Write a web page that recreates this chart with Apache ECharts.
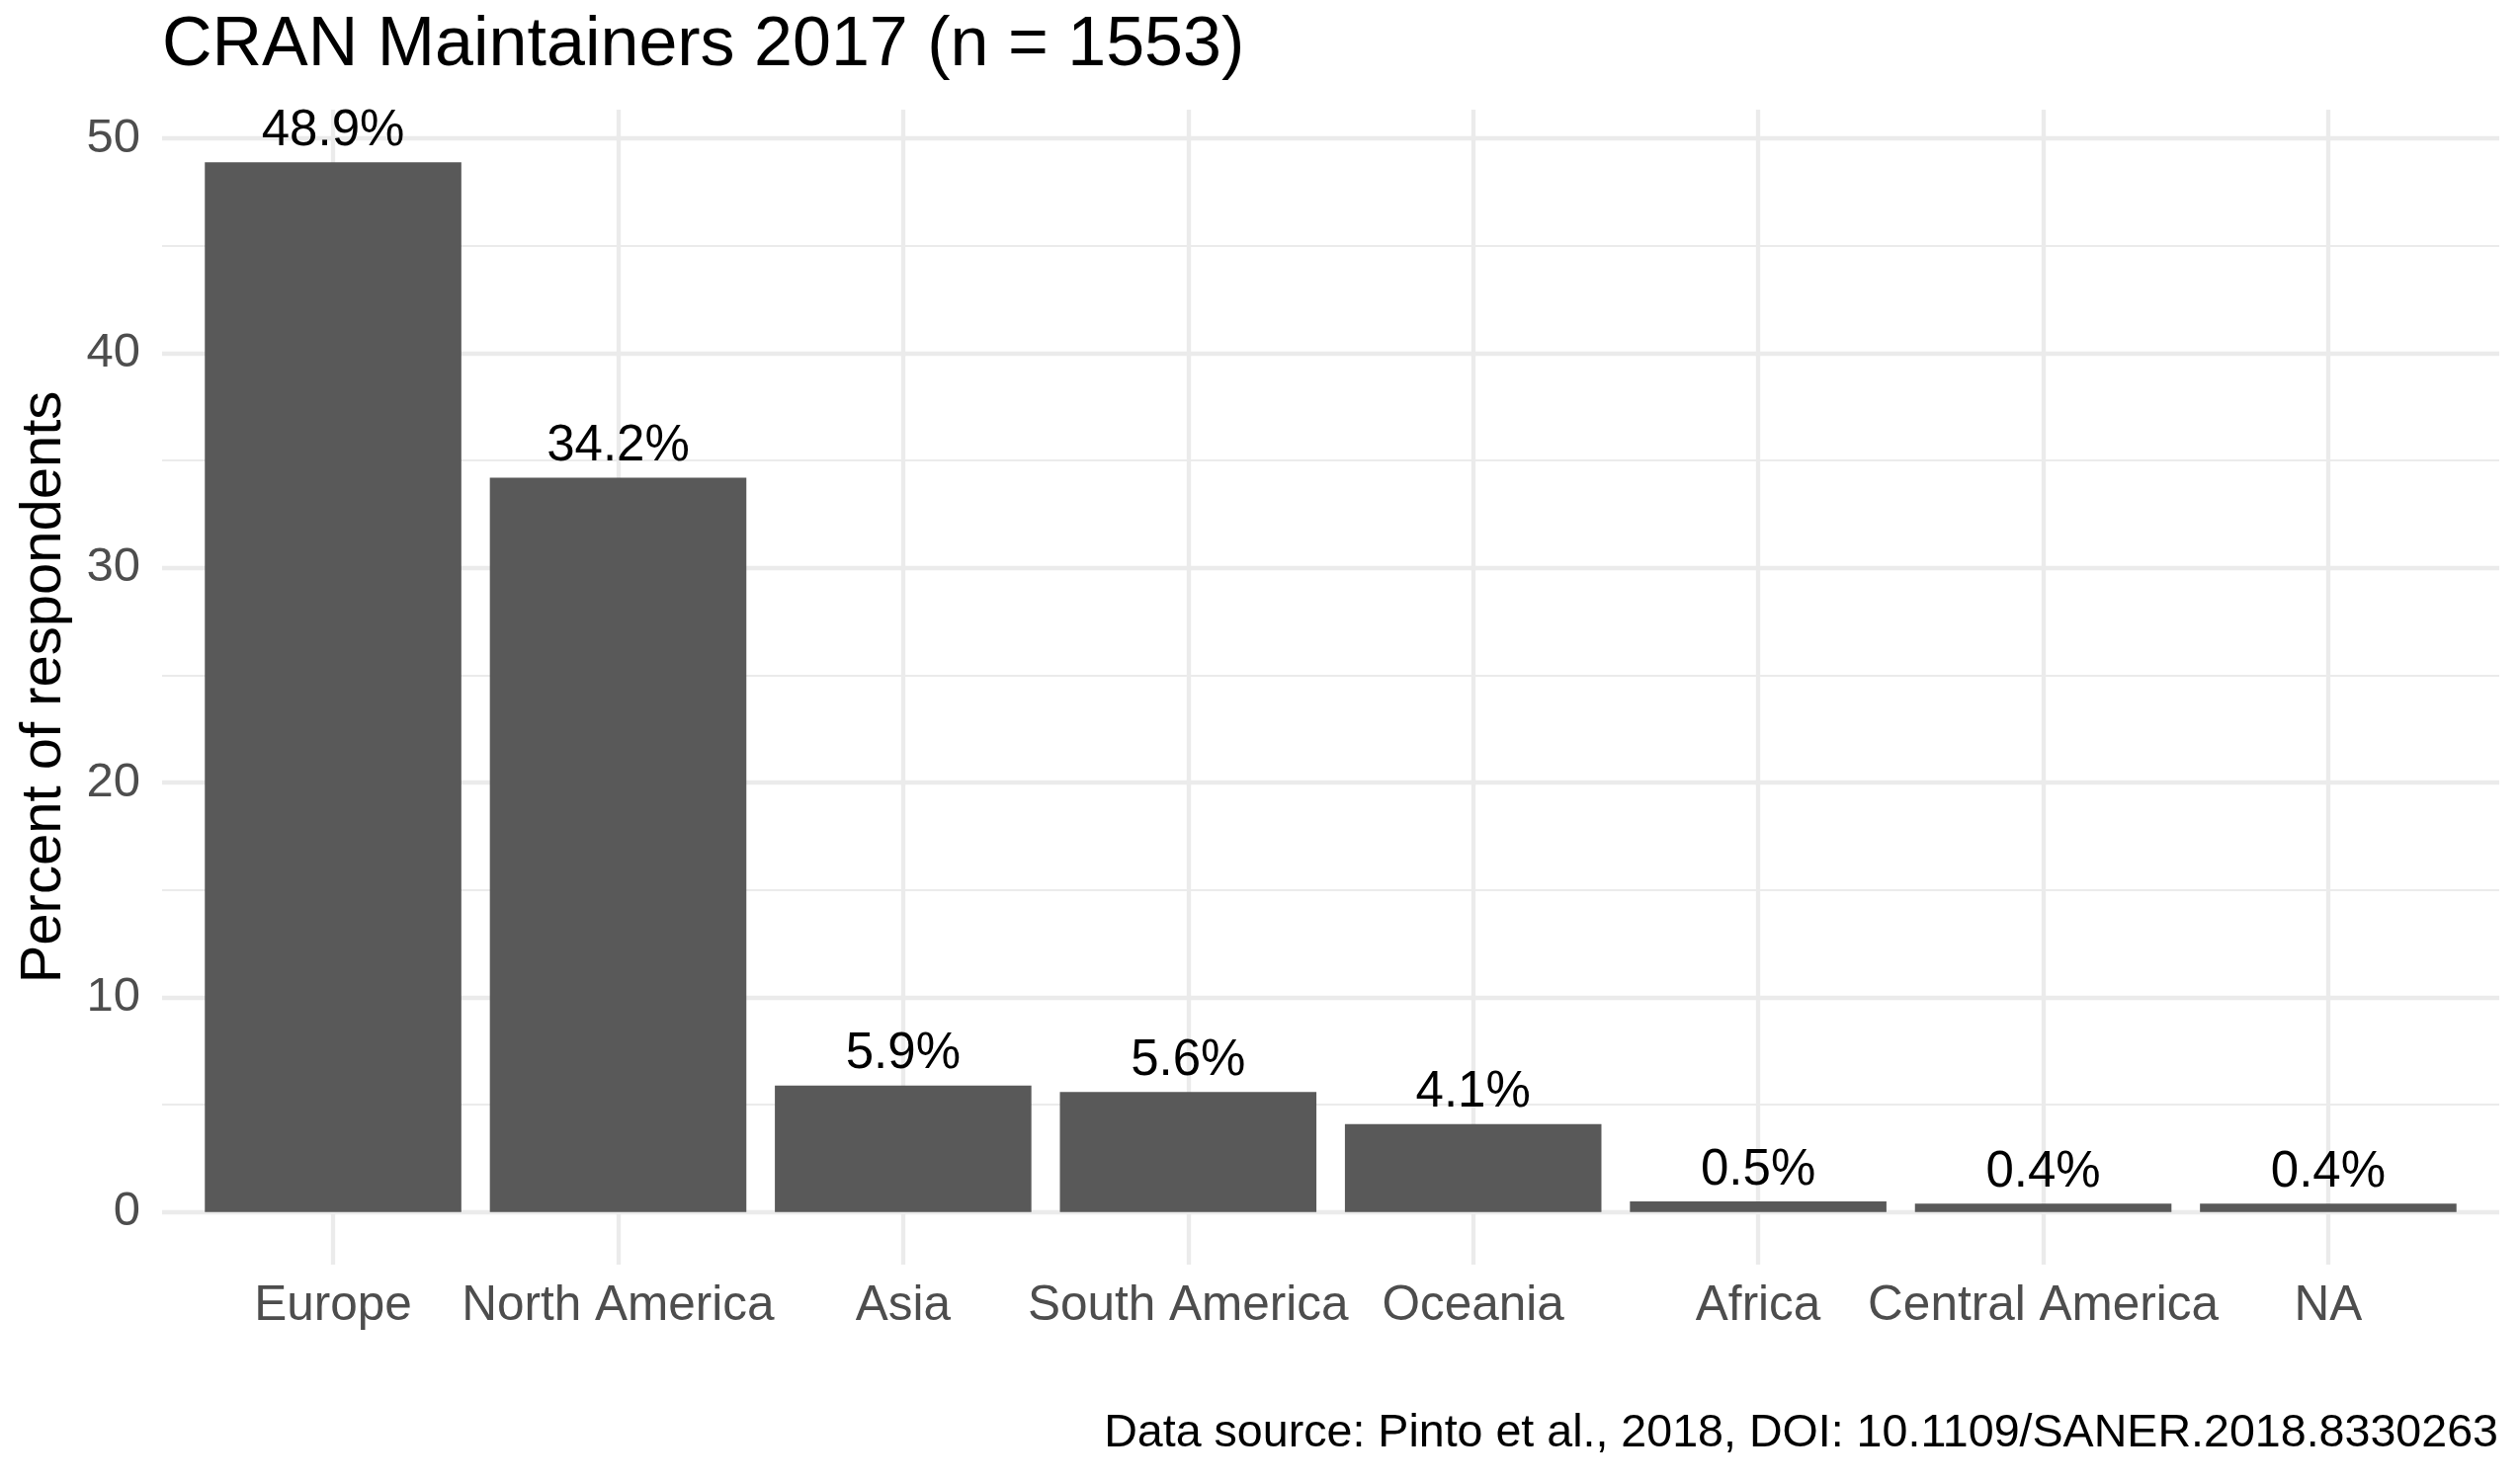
<!DOCTYPE html>
<html>
<head>
<meta charset="utf-8">
<script src="https://cdn.jsdelivr.net/npm/echarts@6/dist/echarts.min.js"></script>
<style>
  html, body { margin: 0; padding: 0; background: #fff; }
  #chart { width: 2550px; height: 1500px; }
</style>
</head>
<body>
<div id="chart"></div>
<script>
// data
const regions = ['Europe', 'North America', 'Asia', 'South America', 'Oceania', 'Africa', 'Central America', 'NA'];
const percents = [48.9, 34.2, 5.9, 5.6, 4.1, 0.5, 0.4, 0.4];
const yMajorTicks = [0, 10, 20, 30, 40, 50];
const yMinorTicks = [5, 15, 25, 35, 45];
const xPositions = regions.map((r, i) => i + 1);

const FONT = '"Liberation Sans", Arial, Helvetica, sans-serif';
const GRID = '#ebebeb';

// ggplot style expansion: 5% on the value axis, 0.6 units on the discrete one
const yMax = Math.max(...percents);
const yMin = -0.05 * yMax;
const yTop = yMax * 1.05;

const chart = echarts.init(document.getElementById('chart'), null, { renderer: 'canvas' });

const option = {
  backgroundColor: '#ffffff',
  animation: false,
  title: [
    {
      text: 'CRAN Maintainers 2017 (n = 1553)',
      left: 164,
      top: 12,
      padding: 0,
      textStyle: { fontFamily: FONT, fontSize: 70, fontWeight: 'normal', color: '#000' }
    },
    {
      text: 'Data source: Pinto et al., 2018, DOI: 10.1109/SANER.2018.8330263',
      right: 22,
      top: 1428,
      padding: 0,
      textStyle: { fontFamily: FONT, fontSize: 46.6, fontWeight: 'normal', color: '#000' }
    }
  ],
  grid: {
    left: 164,
    right: 21,
    top: 111,
    bottom: 220,
    containLabel: false,
    outerBoundsMode: 'none'
  },
  xAxis: {
    type: 'value',
    min: 0.4,
    max: 8.6,
    axisLine: { show: false },
    axisTick: { show: false, customValues: xPositions },
    axisLabel: {
      customValues: xPositions,
      formatter: v => regions[Math.round(v) - 1] || '',
      fontFamily: FONT,
      fontSize: 49.5,
      color: '#4d4d4d',
      margin: 17
    },
    splitLine: { show: true, lineStyle: { color: GRID, width: 4.3 } }
  },
  yAxis: [
    {
      type: 'value',
      min: yMin,
      max: yTop,
      name: 'Percent of respondents',
      nameLocation: 'middle',
      nameRotate: 90,
      nameGap: 90,
      nameTextStyle: { fontFamily: FONT, fontSize: 58, color: '#000' },
      axisLine: { show: false },
      axisTick: { show: false, customValues: yMajorTicks },
      axisLabel: {
        customValues: yMajorTicks,
        fontFamily: FONT,
        fontSize: 49,
        color: '#4d4d4d',
        margin: 22
      },
      splitLine: { show: true, lineStyle: { color: GRID, width: 4.3 } }
    },
    {
      type: 'value',
      min: yMin,
      max: yTop,
      position: 'left',
      axisLine: { show: false },
      axisTick: { show: false, customValues: yMinorTicks },
      axisLabel: { show: false },
      splitLine: { show: true, lineStyle: { color: GRID, width: 2.2 } }
    }
  ],
  series: [
    {
      type: 'bar',
      yAxisIndex: 0,
      data: percents.map((v, i) => [xPositions[i], v]),
      barWidth: '90%',
      itemStyle: { color: '#595959' },
      label: {
        show: true,
        position: 'top',
        distance: 6,
        formatter: p => p.value[1].toFixed(1) + '%',
        fontFamily: FONT,
        fontSize: 51,
        color: '#000'
      }
    }
  ]
};

chart.setOption(option);
</script>
</body>
</html>
